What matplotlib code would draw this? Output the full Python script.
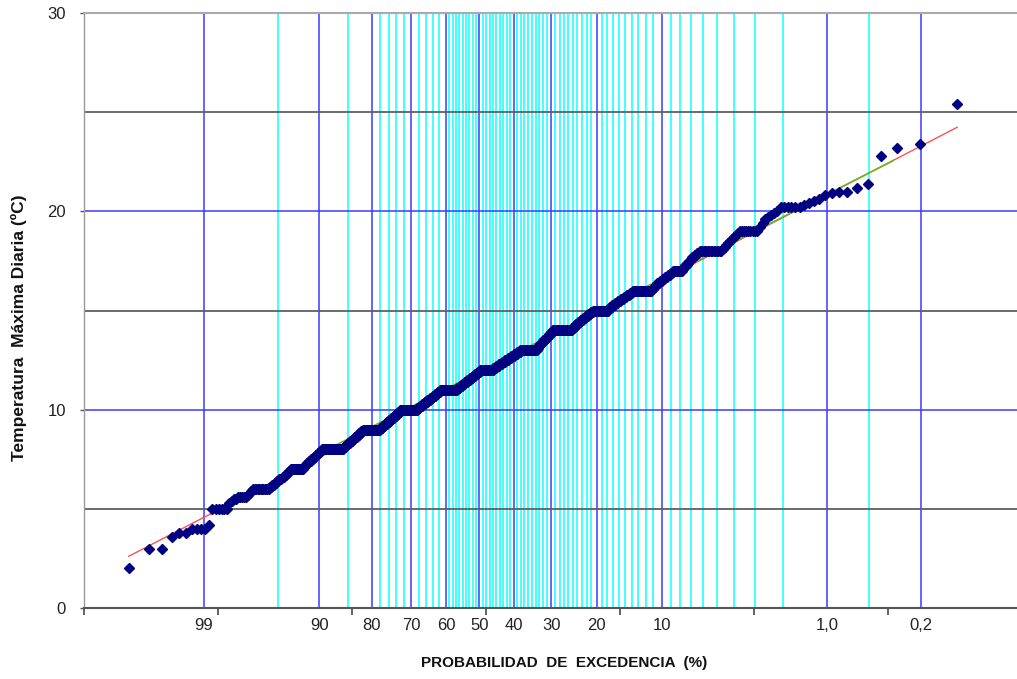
import numpy as np
import matplotlib
matplotlib.use("Agg")
import matplotlib.pyplot as plt
from statistics import NormalDist

plt.rcParams['font.family'] = ['Liberation Sans', 'DejaVu Sans']

# ---------------- data (sorted sample, descending) ----------------
temp_values = [
    25.4, 23.4, 23.2, 22.8, 21.4, 21.2, 21.0, 20.9, 20.8, 20.6, 20.5, 20.4, 20.3, 20.2, 20.0,
    19.9, 19.8, 19.7, 19.6, 19.4, 19.2, 19.0,
    18.9, 18.8, 18.7, 18.6, 18.5, 18.4, 18.3, 18.2, 18.1, 18.0,
    17.9, 17.8, 17.7, 17.6, 17.5, 17.4, 17.3, 17.2, 17.1, 17.0,
    16.9, 16.8, 16.7, 16.6, 16.5, 16.4, 16.3, 16.2, 16.1, 16.0,
    15.9, 15.8, 15.7, 15.6, 15.5, 15.4, 15.3, 15.2, 15.1, 15.0,
    14.9, 14.8, 14.7, 14.6, 14.5, 14.4, 14.3, 14.2, 14.1, 14.0,
    13.9, 13.8, 13.7, 13.6, 13.5, 13.4, 13.3, 13.2, 13.1, 13.0,
    12.9, 12.8, 12.7, 12.6, 12.5, 12.4, 12.3, 12.2, 12.1, 12.0,
    11.9, 11.8, 11.7, 11.6, 11.5, 11.4, 11.3, 11.2, 11.1, 11.0,
    10.9, 10.8, 10.7, 10.6, 10.5, 10.4, 10.3, 10.2, 10.1, 10.0,
    9.9, 9.8, 9.7, 9.6, 9.5, 9.4, 9.3, 9.2, 9.1, 9.0,
    8.9, 8.8, 8.7, 8.6, 8.5, 8.4, 8.3, 8.2, 8.1, 8.0,
    7.9, 7.8, 7.7, 7.6, 7.5, 7.4, 7.3, 7.2, 7.1, 7.0,
    6.9, 6.8, 6.7, 6.6, 6.5, 6.4, 6.3, 6.2, 6.1, 6.0,
    5.9, 5.8, 5.7, 5.6, 5.5, 5.4, 5.3, 5.0,
    4.2, 4.0, 3.8, 3.6, 3.0, 2.0,
]
temp_counts = [
    1, 1, 1, 1, 1, 1, 2, 1, 1, 1, 1, 1, 1, 6, 1,
    1, 1, 1, 1, 1, 1, 9,
    1, 1, 1, 1, 1, 1, 1, 1, 1, 16,
    2, 2, 2, 1, 2, 1, 2, 1, 1, 10,
    2, 3, 3, 3, 3, 3, 2, 2, 2, 26,
    4, 5, 4, 5, 5, 4, 5, 4, 3, 27,
    5, 5, 5, 5, 5, 5, 5, 4, 4, 44,
    4, 5, 4, 5, 5, 4, 5, 4, 3, 44,
    8, 8, 9, 8, 9, 8, 9, 8, 8, 38,
    7, 8, 7, 8, 7, 8, 7, 8, 7, 49,
    7, 7, 7, 7, 8, 7, 7, 7, 7, 45,
    5, 6, 5, 6, 5, 6, 5, 6, 5, 38,
    4, 4, 4, 5, 4, 5, 4, 4, 4, 36,
    3, 3, 3, 3, 3, 3, 3, 2, 2, 15,
    2, 2, 2, 2, 3, 2, 2, 2, 2, 12,
    1, 1, 1, 5, 2, 1, 1, 6,
    1, 4, 2, 1, 2, 1,
]

# probability paper (Pearson III frequency factor, skew 0.3)
axis_skew = 0.3
major_prob = [99, 90, 80, 70, 60, 50, 40, 30, 20, 10, 1, 0.2]
major_labels = ["99", "90", "80", "70", "60", "50", "40", "30", "20", "10", "1,0", "0,2"]
minor_prob = ([95, 85, 78, 76, 74, 72, 68, 66, 64, 62]
              + list(range(59, 50, -1)) + list(range(49, 40, -1))
              + list(range(39, 30, -1)) + list(range(29, 20, -1))
              + list(range(19, 10, -1)) + list(range(9, 1, -1)) + [0.5])

# fitted lines
fit_mean, fit_std = 11.94, 3.50          # red line
fit2_mean, fit2_std = 12.08, 3.45        # green line
fit2_range = (90, 0.33)                  # exceedance % span of green line

nd = NormalDist()


def kfactor_from_F(F):
    z = nd.inv_cdf(F)
    g = axis_skew
    return (2.0 / g) * ((1 + g * z / 6.0 - g * g / 36.0) ** 3 - 1)


def kfactor(p_exceed_pct):
    return kfactor_from_F(1 - p_exceed_pct / 100.0)


sample = np.repeat(temp_values, temp_counts)
n = len(sample)
ranks = np.arange(1, n + 1)
xk = np.array([kfactor_from_F(1 - r / (n + 1)) for r in ranks])

# ---------------- figure ----------------
W, H = 1017, 679
fig = plt.figure(figsize=(W / 100, H / 100), dpi=100)
ax = fig.add_axes([84 / W, 1 - 608 / H, 1 - 84 / W, 595 / H])
ax.set_xlim(-3.0, 3.96)
ax.set_ylim(0, 30)

for p in minor_prob:
    ax.axvline(kfactor(p), color='#33ffff', lw=1.3, zorder=1)
for p in major_prob:
    ax.axvline(kfactor(p), color='#3a3aff', lw=1.1, zorder=1.2)
for yv in [5, 15, 25]:
    ax.axhline(yv, color='#5f5f5f', lw=1.3, zorder=1.5)
for yv in [10, 20]:
    ax.axhline(yv, color='#3a3aff', lw=1.1, zorder=1.5)

kx = np.array([xk.min(), xk.max()])
ax.plot(kx, fit_mean + fit_std * kx, color='#ff5050', lw=1.0, zorder=3)
k2 = np.array([kfactor(fit2_range[0]), kfactor(fit2_range[1])])
ax.plot(k2, fit2_mean + fit2_std * k2, color='#66bb22', lw=1.2, zorder=3.5)

ax.plot(xk, sample, linestyle='none', marker='D', ms=5.3, color='#000080',
        mec='#000080', zorder=5)

for p, lab in zip(major_prob, major_labels):
    ax.annotate(lab, xy=(kfactor(p), 0), xycoords=('data', 'axes fraction'),
                xytext=(0, -17), textcoords='offset pixels', ha='center', va='center',
                fontsize=12, color='#222222', annotation_clip=False)

ax.set_xticks(range(-3, 4))
ax.set_xticklabels([])
ax.tick_params(axis='x', direction='out', length=5, width=1.3, color='#555555')
ax.set_yticks([0, 10, 20, 30])
ax.tick_params(axis='y', direction='out', length=3, width=1, color='#555555',
               labelsize=12, labelcolor='#222222', pad=10)

ax.spines['right'].set_visible(False)
ax.spines['top'].set_color('#aaaaaa')
ax.spines['top'].set_linewidth(1.5)
ax.spines['left'].set_color('#999999')
ax.spines['left'].set_linewidth(1.0)
ax.spines['bottom'].set_color('#555555')
ax.spines['bottom'].set_linewidth(1.5)

fig.text(564 / W, 1 - 663 / H, "PROBABILIDAD  DE  EXCEDENCIA  (%)", ha='center',
         va='center', fontsize=11, fontweight='bold', color='#111111')
fig.text(19 / W, 1 - 328 / H, "Temperatura  Máxima Diaria (ºC)", ha='center',
         va='center', rotation=90, fontsize=12.5, fontweight='bold', color='#111111')

fig.savefig('out.png', dpi=100)
